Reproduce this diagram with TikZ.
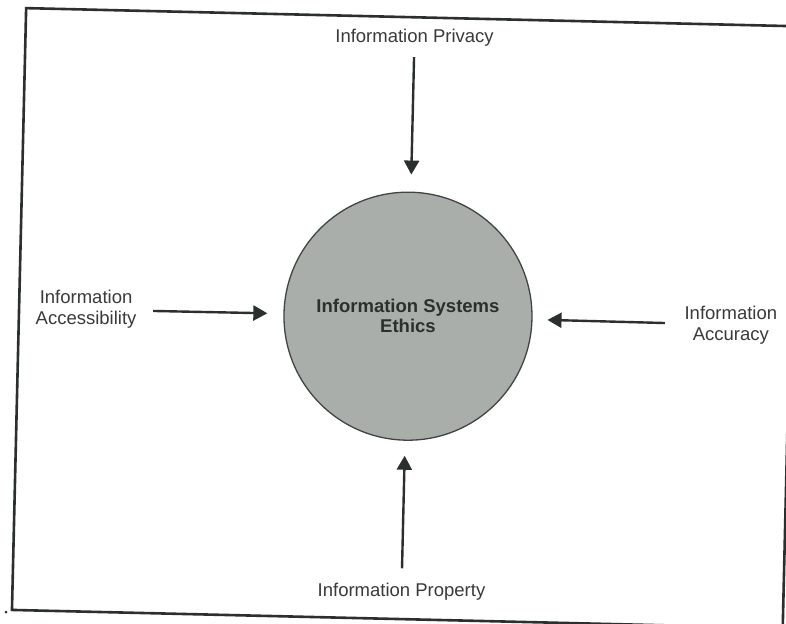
\documentclass[tikz,border=0pt]{standalone}
\usepackage{fontspec}
\setmainfont{Liberation Sans}
\usetikzlibrary{arrows.meta}
\definecolor{inkc}{HTML}{2B2F2D}
\definecolor{labelc}{HTML}{3A3A3A}
\definecolor{discfill}{HTML}{A9AEAB}
\begin{document}
\begin{tikzpicture}[x=1pt,y=-1pt,
  lbl/.style={inner sep=0pt, align=center, text=labelc, font=\fontsize{18.5}{21}\selectfont},
  disc/.style={circle, draw=inkc!90, line width=1.3pt, fill=discfill, minimum size=248pt, inner sep=0pt, align=center, text=inkc, font=\fontsize{18.5}{20}\selectfont\bfseries},
  arr/.style={draw=inkc, line width=2.4pt, -{Triangle[length=14pt,width=15pt]}},
  frame/.style={draw=inkc, line width=2.6pt}]
\useasboundingbox (0,0) rectangle (786,623);
\fill[white] (0,0) rectangle (786,623);
\begin{scope}[rotate around={-1.35:(400,315)}]
  \draw[frame] (19,17) rectangle (790,619);
  \node[disc] (ethics) at (408,316) {Information Systems\\Ethics};
  \node[lbl] (privacy) at (408,37) {Information Privacy};
  \node[lbl] (property) at (408,592) {Information Property};
  \node[lbl] (access) at (86,317) {Information\\Accessibility};
  \node[lbl] (accuracy) at (731,317) {Information\\Accuracy};
  \draw[arr, shorten <=11pt, shorten >=17pt] (privacy) -- (ethics);
  \draw[arr, shorten <=15pt, shorten >=15pt] (property) -- (ethics);
  \draw[arr, shorten <=16.5pt, shorten >=16pt] (access) -- (ethics);
  \draw[arr, shorten <=19.5pt, shorten >=15pt] (accuracy) -- (ethics);
\end{scope}
\fill[inkc] (6,612) circle (1.5);
\end{tikzpicture}
\end{document}
